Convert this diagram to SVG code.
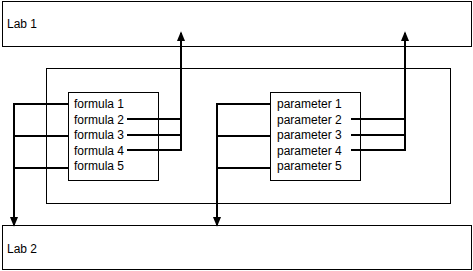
<svg xmlns="http://www.w3.org/2000/svg" width="473" height="271" viewBox="0 0 473 271">
<defs>
<style>
.box{fill:#fff;stroke:#000;stroke-width:1}
.t{font-family:"Liberation Sans",Arial,sans-serif;font-size:12px;fill:#000}
.c{fill:none;stroke:#000;stroke-width:2}
</style>
<marker id="ah" markerWidth="10" markerHeight="12" refX="10" refY="5" orient="auto" markerUnits="userSpaceOnUse" viewBox="0 0 12 10">
<path d="M0,0 L12,5 L0,10 Z" fill="#000"/>
</marker>
</defs>
<rect width="473" height="271" fill="#fff"/>
<g id="lab1"><rect class="box" x="2.5" y="1.5" width="469" height="45"/><text class="t" x="7" y="28">Lab 1</text></g>
<g id="lab2"><rect class="box" x="2.5" y="225.5" width="469" height="44"/><text class="t" x="7" y="253">Lab 2</text></g>
<g id="container"><rect class="box" x="46.5" y="68.5" width="404" height="135"/></g>
<g id="formulas"><rect class="box" x="68.5" y="92.5" width="90" height="88"/>
<text class="t" x="74" y="108">formula 1</text>
<text class="t" x="74" y="123.5">formula 2</text>
<text class="t" x="74" y="139">formula 3</text>
<text class="t" x="74" y="154.5">formula 4</text>
<text class="t" x="74" y="170">formula 5</text>
</g>
<g id="parameters"><rect class="box" x="270.5" y="92.5" width="90" height="88"/>
<text class="t" x="277" y="108">parameter 1</text>
<text class="t" x="277" y="123.5">parameter 2</text>
<text class="t" x="277" y="139">parameter 3</text>
<text class="t" x="277" y="154.5">parameter 4</text>
<text class="t" x="277" y="170">parameter 5</text>
</g>
<g id="connectors">
<path class="c" d="M69,104 H14 V225" marker-end="url(#ah)"/>
<path class="c" d="M69,136 H14 M69,168 H14"/>
<path class="c" d="M127,150 H181 V33" marker-end="url(#ah)"/>
<path class="c" d="M127,119 H181 M127,135 H181"/>
<path class="c" d="M270,104 H217 V225" marker-end="url(#ah)"/>
<path class="c" d="M270,136 H217 M270,168 H217"/>
<path class="c" d="M351,150 H405 V33" marker-end="url(#ah)"/>
<path class="c" d="M351,119 H405 M351,135 H405"/>
</g>
</svg>
